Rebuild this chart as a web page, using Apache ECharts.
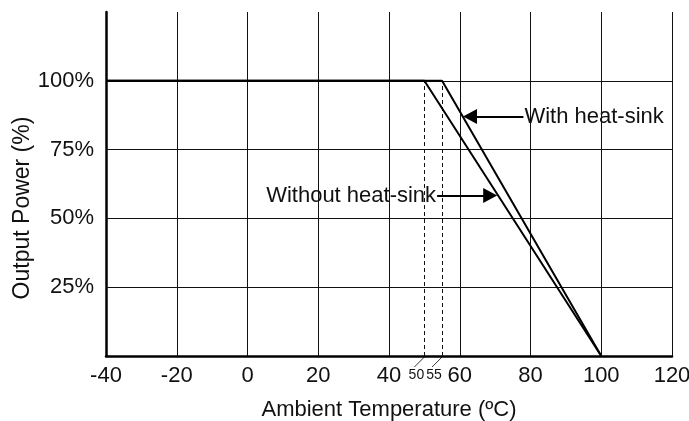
<!DOCTYPE html>
<html><head><meta charset="utf-8">
<script src="https://cdn.jsdelivr.net/npm/echarts@6/dist/echarts.min.js"></script>
<style>html,body{margin:0;padding:0;background:#fff}#c{width:689px;height:421px}</style>
</head><body><div id="c"></div>
<script>
const xRange = [-40, 120];
const yRange = [0, 125];
const yGridValues = [25, 50, 75, 100];
const withoutHeatSink = [[-40, 100], [50, 100], [100, 0]];
const withHeatSink = [[-40, 100], [55, 100], [100, 0]];
const derateStarts = [50, 55];
const arrowWith = { tail: [78, 87], tip: [62.9, 87], text: 'With heat-sink' };
const arrowWithout = { tail: [53.6, 58.3], tip: [68.6, 58.3], text: 'Without heat-sink' };

const FONT = '"Liberation Sans", Arial, Helvetica, sans-serif';
const TXT = '#111';
const FS = 22;
const chart = echarts.init(document.getElementById('c'), null, { renderer: 'canvas' });

const option = {
  backgroundColor: '#fff',
  animation: false,
  grid: { left: 106, right: 17, top: 12, bottom: 65, containLabel: false, outerBoundsMode: 'none' },
  xAxis: {
    type: 'value', min: xRange[0], max: xRange[1], interval: 20,
    name: 'Ambient Temperature (ºC)', nameLocation: 'middle', nameGap: 43, nameMoveOverlap: false,
    nameTextStyle: { fontFamily: FONT, fontSize: FS, color: TXT },
    axisLine: { show: true, onZero: false, lineStyle: { color: '#000', width: 2.5 } },
    axisTick: { show: false },
    axisLabel: { fontFamily: FONT, fontSize: FS, color: TXT, margin: 9 },
    splitLine: { show: true, lineStyle: { color: '#111', width: 1 } }
  },
  yAxis: {
    type: 'value', min: yRange[0], max: yRange[1], interval: 25,
    name: 'Output Power (%)', nameLocation: 'middle', nameGap: 72, nameMoveOverlap: false,
    nameTextStyle: { fontFamily: FONT, fontSize: 23, color: TXT, padding: [0, 48, 0, 0] },
    axisLine: { show: true, onZero: false, lineStyle: { color: '#000', width: 2.5 } },
    axisTick: { show: false },
    axisLabel: {
      fontFamily: FONT, fontSize: FS, color: TXT, margin: 12,
      formatter: v => (v === 0 || v === 125) ? '' : v + '%'
    },
    splitLine: { show: false }
  },
  series: [
    {
      name: 'Without heat-sink', type: 'line', data: withoutHeatSink, symbol: 'none',
      lineStyle: { color: '#000', width: 2 }, z: 5,
      markLine: {
        silent: true, symbol: 'none', label: { show: false },
        lineStyle: { color: '#111', width: 1, type: 'solid' },
        data: yGridValues.map(v => ({ yAxis: v }))
      }
    },
    {
      name: 'With heat-sink', type: 'line', data: withHeatSink, symbol: 'none',
      lineStyle: { color: '#000', width: 2 }, z: 5,
      markLine: {
        silent: true, symbol: 'none', label: { show: false },
        lineStyle: { color: '#111', width: 1, type: [4, 3] },
        data: derateStarts.map(x => [{ coord: [x, 0] }, { coord: [x, 100] }])
      }
    },
    {
      name: 'arrows', type: 'line', data: [], symbol: 'none', z: 6,
      markLine: {
        silent: true, symbol: ['none', 'triangle'], symbolSize: [15, 14],
        label: { show: false },
        lineStyle: { color: '#000', width: 2, type: 'solid' },
        data: [
          [{ coord: arrowWith.tail }, { coord: arrowWith.tip }],
          [{ coord: arrowWithout.tail }, { coord: arrowWithout.tip }]
        ]
      },
      markPoint: {
        silent: true, symbol: 'circle', symbolSize: 0,
        data: [
          { coord: arrowWith.tail, label: { show: true, position: 'right', distance: 1, formatter: arrowWith.text, fontFamily: FONT, fontSize: FS, color: TXT } },
          { coord: arrowWithout.tail, label: { show: true, position: 'left', distance: 1, formatter: arrowWithout.text, fontFamily: FONT, fontSize: FS, color: TXT } }
        ]
      }
    }
  ]
};
chart.setOption(option);

// small labels for the derating start temperatures with leader lines
const g = [];
derateStarts.forEach((x) => {
  const p = chart.convertToPixel({ gridIndex: 0 }, [x, 0]);
  g.push({ type: 'line', shape: { x1: p[0], y1: p[1] + 1, x2: p[0] - 10, y2: p[1] + 11 }, style: { stroke: '#000', lineWidth: 0.8 } });
  g.push({ type: 'text', x: p[0] - 8, y: p[1] + 19, style: { text: String(x), font: '14px ' + FONT, fill: TXT, align: 'center', verticalAlign: 'middle' } });
});
chart.setOption({ graphic: g });
</script></body></html>
